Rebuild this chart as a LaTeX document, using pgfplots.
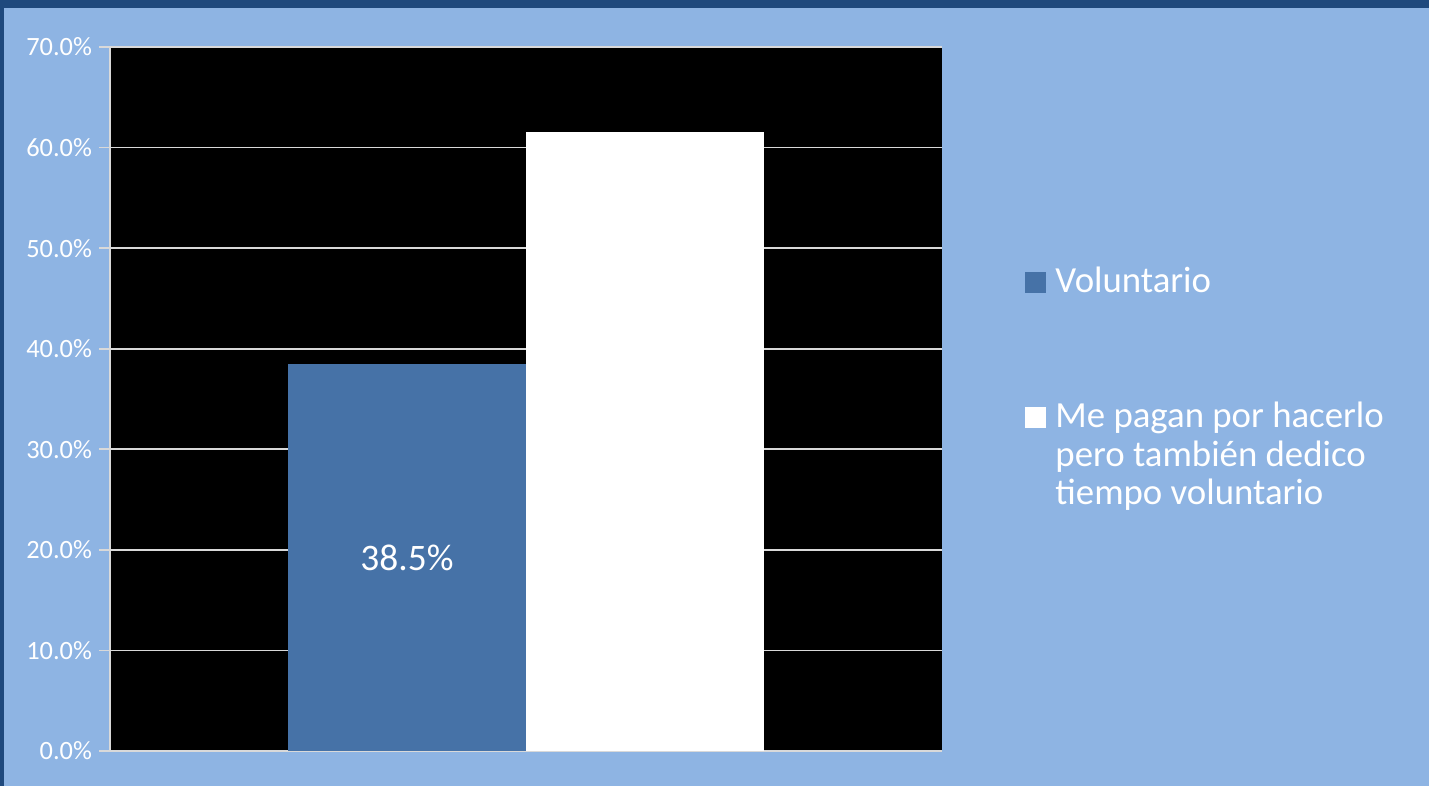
\documentclass[border=0pt]{standalone}
\usepackage{fontspec}
\setmainfont{Carlito}
\usepackage{pgfplots}
\pgfplotsset{compat=1.18}
\definecolor{bgblue}{HTML}{8EB4E3}
\definecolor{frameblue}{HTML}{1F497D}
\definecolor{barblue}{HTML}{4672A7}
\definecolor{gridc}{HTML}{D9D9D9}
\begin{document}
\begin{tikzpicture}
% slide background with dark edge
\fill[frameblue] (0,0) rectangle (714.5pt,393pt);
\fill[bgblue] (2pt,0) rectangle (714.5pt,389pt);
\begin{axis}[
  at={(55pt,17.5pt)}, anchor=south west,
  scale only axis, width=416pt, height=352pt,
  xmin=0.5, xmax=1.5, ymin=0, ymax=70,
  xtick=\empty, ytick={0,10,...,70},
  axis background/.style={fill=black},
  axis x line=bottom, axis y line=left,
  axis line style={-, gridc, line width=0.8pt},
  ymajorgrids, major grid style={gridc, line width=0.8pt},
  tick align=outside, major tick length=5.5pt,
  ytick style={gridc, line width=0.8pt},
  yticklabel={\pgfmathprintnumber{\tick}\%},
  yticklabel style={/pgf/number format/.cd, fixed, fixed zerofill, precision=1,
    assume math mode=true, /tikz/.cd,
    font=\fontsize{13.2}{15}\selectfont, text=white},
  ybar=0pt, bar width=119pt,
  visualization depends on=y \as \rawy,
  nodes near coords={\pgfmathprintnumber[fixed,fixed zerofill,precision=1]{\rawy}\%},
  nodes near coords style={/pgf/number format/assume math mode=true},
  every node near coord/.append style={anchor=center, text=white,
    font=\fontsize{18.7}{22}\selectfont,
    shift={(axis direction cs:0,-\rawy/2)}},
  legend image code/.code={\fill[#1] (0pt,0pt) rectangle (10.5pt,10.5pt);
    \path (13pt,0pt);},
  legend style={at={(1.0998,0.6935)}, anchor=north west, draw=none, fill=none,
    text=white, inner sep=0pt, font=\fontsize{18.4}{19.2}\selectfont,
    cells={anchor=base west}, row sep=48.5pt},
]
\addplot[fill=barblue, draw=none] coordinates {(1,38.5)};
\addlegendentry{Voluntario}
\addplot[fill=white, draw=none] coordinates {(1,61.5)};
\addlegendentry{\begin{tabular}[t]{@{}l@{}}Me pagan por hacerlo\\pero también dedico\\tiempo voluntario\end{tabular}}
\end{axis}
\end{tikzpicture}
\end{document}
